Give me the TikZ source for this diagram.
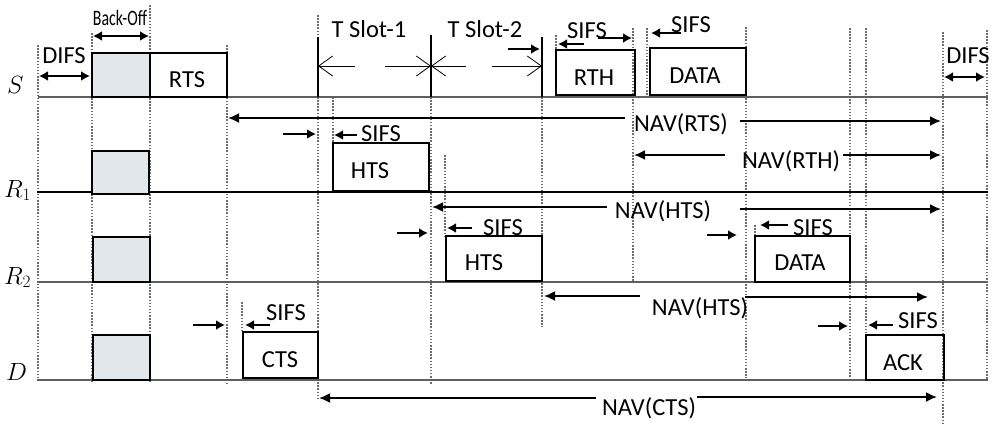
\documentclass[tikz,border=0pt]{standalone}
\usepackage{fontspec}
\setmainfont{Carlito}
\usetikzlibrary{arrows.meta}
\definecolor{bofill}{RGB}{226,231,235}
\definecolor{tl}{RGB}{95,95,95}
\definecolor{dotc}{RGB}{110,110,110}
\begin{document}
\begin{tikzpicture}[x=1pt,y=-1pt,
  lbl/.style={font=\fontsize{24.5}{26}\selectfont, inner sep=0pt, anchor=base},
  rowlbl/.style={font=\fontsize{23}{26}\selectfont, inner sep=0pt, anchor=base west},
  box/.style={draw=black, line width=1.3pt, inner sep=0pt},
  bo/.style={box, fill=bofill},
  tline/.style={draw=tl, line width=1.3pt},
  dotl/.style={draw=dotc, line width=2pt, dash pattern=on 1.5pt off 1.6pt},
  nav/.style={line width=1.8pt, -{Latex[length=11pt,width=10pt]}},
  sarr/.style={line width=2.4pt, -{Latex[length=9pt,width=10pt]}},
  dbl/.style={line width=2.4pt, {Latex[length=9pt,width=10pt]}-{Latex[length=9pt,width=10pt]}},
  slot/.style={line width=0.8pt, -{Straight Barb[length=14pt,width=20pt]}},
  sline/.style={line width=1.2pt}
]
\useasboundingbox (0,0) rectangle (996,424);

% vertical dotted lines
\draw[dotl] (38,45) -- (38,382);
\draw[dotl] (92,33) -- (92,382);
\draw[dotl] (150,5) -- (150,382);
\draw[dotl] (227,45) -- (227,385);
\draw[dotl] (318,15) -- (318,37);
\draw[dotl] (318,97) -- (318,400);
\draw[dotl] (333,97) -- (333,143);
\draw[dotl] (431,97) -- (431,385);
\draw[dotl] (445,155) -- (445,236);
\draw[dotl] (542,97) -- (542,327);
\draw[dotl] (556,35) -- (556,50);
\draw[dotl] (633,28) -- (633,282);
\draw[dotl] (647,28) -- (647,97);
\draw[dotl] (746,27) -- (746,378);
\draw[dotl] (755,225) -- (755,236);
\draw[dotl] (850,28) -- (850,378);
\draw[dotl] (866,28) -- (866,335);
\draw[dotl] (943,32) -- (943,424);
\draw[dotl] (987,30) -- (987,380);
\draw[dotl] (242,302) -- (242,332);

% time lines
\draw[tline] (38,97) coordinate (sA) -- (988,97) coordinate (sB);
\draw[tline, draw=black] (37,192) coordinate (r1A) -- (988,192) coordinate (r1B);
\draw[tline] (37,282) coordinate (r2A) -- (988,282) coordinate (r2B);
\draw[tline] (37,380) coordinate (dA) -- (988,380) coordinate (dB);

% row labels
\node[rowlbl] (lS) at (7,93) {$S$};
\node[rowlbl] (lR1) at (4,197) {$R_1$};
\node[rowlbl] (lR2) at (4,284) {$R_2$};
\node[rowlbl] (lD) at (6,380) {$D$};

% back-off boxes
\node[bo, minimum width=58pt, minimum height=44pt] (boS) at (121,75) {};
\node[bo, minimum width=57pt, minimum height=43pt] (boR1) at (120.5,172.5) {};
\node[bo, minimum width=57pt, minimum height=45pt] (boR2) at (121.5,259.5) {};
\node[bo, minimum width=57pt, minimum height=45pt] (boD) at (121.5,357.5) {};

% frame boxes
\node[box, minimum width=77pt, minimum height=44pt] (rtsbox) at (188.5,75) {};
\node[box, minimum width=96pt, minimum height=48pt] (htsAbox) at (381,167) {};
\node[box, minimum width=96pt, minimum height=45pt] (htsBbox) at (494,258.5) {};
\node[box, minimum width=79pt, minimum height=45pt] (rthbox) at (595.5,72.5) {};
\node[box, minimum width=96pt, minimum height=47pt] (dataSbox) at (698,71.5) {};
\node[box, minimum width=95pt, minimum height=46pt] (dataRbox) at (802.5,259) {};
\node[box, minimum width=75pt, minimum height=46pt] (ctsbox) at (280.5,355) {};
\node[box, minimum width=78pt, minimum height=45pt] (ackbox) at (905,357.5) {};

% T slot solid lines
\draw[sline] (318,37) coordinate (t1a) -- (318,97) coordinate (t1b);
\draw[sline] (431,35) coordinate (t2a) -- (431,97) coordinate (t2b);
\draw[sline] (542,37) coordinate (t3a) -- (542,97) coordinate (t3b);

% T slot arrows
\draw[slot] (355,66) coordinate (ts1a) -- (318,66) coordinate (ts1b);
\draw[slot] (385,66) coordinate (ts1c) -- (431,66) coordinate (ts1d);
\draw[slot] (466,66) coordinate (ts2a) -- (431,66) coordinate (ts2b);
\draw[slot] (492,66) coordinate (ts2c) -- (542,66) coordinate (ts2d);

% labels
\node[lbl] (difsL) at (64,63) {DIFS};
\node[lbl, font=\fontsize{22}{23}\selectfont] (backoff) at (120,25) {\scalebox{0.72}[1]{Back-Off}};
\node[lbl] (rts) at (187,87) {RTS};
\node[lbl] (tslot1) at (369,37) {T Slot-1};
\node[lbl] (tslot2) at (485,37) {T Slot-2};
\node[lbl] (sifs1) at (587,38) {SIFS};
\node[lbl] (rth) at (594,85) {RTH};
\node[lbl] (sifs2) at (691,32) {SIFS};
\node[lbl] (dataS) at (695,83) {DATA};
\node[lbl] (difsR) at (968,63) {DIFS};
\node[lbl] (navrts) at (681,131) {NAV(RTS)};
\node[lbl] (sifs3) at (381,141) {SIFS};
\node[lbl] (htsA) at (370,178) {HTS};
\node[lbl] (navrth) at (791,168) {NAV(RTH)};
\node[lbl] (navhts1) at (663,218) {NAV(HTS)};
\node[lbl] (sifs4) at (503,235) {SIFS};
\node[lbl] (htsB) at (484,270) {HTS};
\node[lbl] (sifs5) at (813,235) {SIFS};
\node[lbl] (dataR) at (800,270) {DATA};
\node[lbl] (navhts2) at (700,315) {NAV(HTS)};
\node[lbl] (sifs6) at (286,320) {SIFS};
\node[lbl] (cts) at (280,367) {CTS};
\node[lbl] (sifs7) at (918,328) {SIFS};
\node[lbl] (ack) at (903,370) {ACK};
\node[lbl] (navcts) at (649,415) {NAV(CTS)};

% double arrows
\draw[dbl] (39,76) coordinate (dl1) -- (90,76) coordinate (dl2);
\draw[dbl] (944,77) coordinate (dr1) -- (985,77) coordinate (dr2);
\draw[dbl] (93,36) coordinate (bo1) -- (149,36) coordinate (bo2);

% short SIFS arrows
\draw[sarr] (283,134) coordinate (a1) -- (316,134) coordinate (a2);
\draw[sarr] (357,135) coordinate (a3) -- (334,135) coordinate (a4);
\draw[sarr] (508,49) coordinate (a5) -- (540,49) coordinate (a6);
\draw[sarr] (584,44) coordinate (a7) -- (558,44) coordinate (a8);
\draw[sarr] (598,38) coordinate (a9) -- (632,38) coordinate (a10);
\draw[sarr] (681,33) coordinate (a11) -- (651,33) coordinate (a12);
\draw[sarr] (397,233) coordinate (a13) -- (428,233) coordinate (a14);
\draw[sarr] (472,228) coordinate (a15) -- (447,228) coordinate (a16);
\draw[sarr] (707,235) coordinate (a17) -- (737,235) coordinate (a18);
\draw[sarr] (788,225) coordinate (a19) -- (760,225) coordinate (a20);
\draw[sarr] (193,325) coordinate (a21) -- (225,325) coordinate (a22);
\draw[sarr] (270,325) coordinate (a23) -- (245,325) coordinate (a24);
\draw[sarr] (818,326) coordinate (a25) -- (848,326) coordinate (a26);
\draw[sarr] (893,325) coordinate (a27) -- (868,325) coordinate (a28);

% NAV arrows
\draw[nav] (625,118) coordinate (n1) -- (228,118) coordinate (n2);
\draw[nav] (740,121) coordinate (n3) -- (941,121) coordinate (n4);
\draw[nav] (725,155) coordinate (n5) -- (634,155) coordinate (n6);
\draw[nav] (843,155) coordinate (n7) -- (941,155) coordinate (n8);
\draw[nav] (607,207) coordinate (n9) -- (432,207) coordinate (n10);
\draw[nav] (740,209) coordinate (n11) -- (941,209) coordinate (n12);
\draw[nav] (640,296) coordinate (n13) -- (544,296) coordinate (n14);
\draw[nav] (745,297) coordinate (n15) -- (928,297) coordinate (n16);
\draw[nav] (596,398) coordinate (n17) -- (319,398) coordinate (n18);
\draw[nav] (697,397) coordinate (n19) -- (937,397) coordinate (n20);
\end{tikzpicture}
\end{document}
